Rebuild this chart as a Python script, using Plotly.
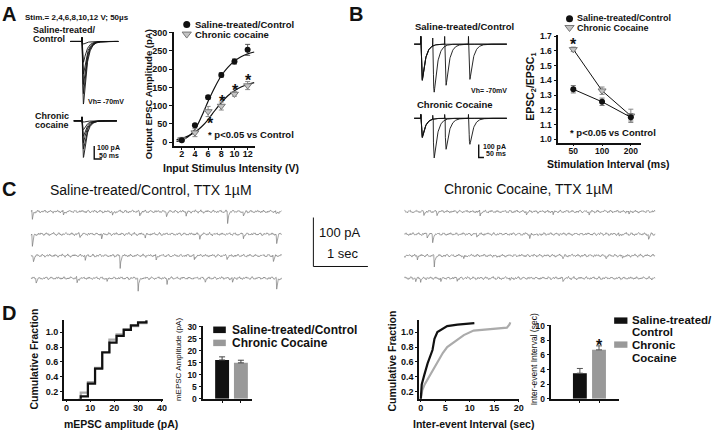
import numpy as np
import plotly.graph_objects as go

W, H = 720, 438
FONT = "Liberation Sans, Arial, sans-serif"
INK = "#111111"
LIGHT = "#ababab"

# ------------------------------------------------------------------ data
# Panel A : input-output curve
stim_v = [2, 4, 6, 8, 10, 12]
io_ctrl = [5, 46, 123, 184, 221, 253]
io_ctrl_err = [3, 4, 5, 6, 7, 15]
io_coc = [7, 26, 84, 99, 132, 155]
io_coc_err = [6, 11, 14, 11, 6, 11]
fit_v = [1.2, 2, 3, 4, 5, 6, 7, 8, 9, 10, 11, 12, 13]
fit_ctrl = [2, 5, 15, 35, 70, 112, 150, 182, 205, 222, 234, 242, 247]
fit_coc = [7, 10, 17, 27, 42, 62, 86, 108, 127, 141, 151, 158, 163]
io_sig_v = [6.3, 8.2, 10.1, 12.1]
io_sig_y = [62, 123, 153, 179]

# Panel A : example EPSC sweeps (pA peaks)
a_stim_ms = 102
a_ctrl_peaks = [20, 160, 250, 330, 400, 480]
a_coc_peaks = [10, 68, 118, 168, 216, 281]
a_ctrl_span = [26, 340]
a_coc_span = [48, 330]

# Panel B : paired-pulse ratio
ppr_labels = ["50", "100", "200"]
ppr_ctrl = [1.34, 1.255, 1.15]
ppr_ctrl_err = [0.025, 0.025, 0.025]
ppr_coc = [1.61, 1.33, 1.16]
ppr_coc_err = [0.015, 0.025, 0.045]
ppr_sig_y = [1.67]

# Panel B : example paired-pulse sweeps
b_stim1_ms = 39
b_isi_ms = [50, 100, 200]
b_ctrl_eps1 = [270, 275, 280]
b_ctrl_eps2 = [361, 316, 271]
b_coc_eps1 = [140, 145, 150]
b_coc_eps2 = [300, 238, 200]
b_span = [11, 400]

# Panel C : mEPSC events (time s, amplitude pA) per sweep
c_ctrl_event_s = [
    [0.03, 0.6, 1.5, 2.0, 2.49, 2.85, 3.61, 3.9, 4.5],
    [0.03, 0.9, 1.3, 2.1, 3.1, 3.9, 4.51],
    [0.05, 1.0, 1.64, 2.3, 3.0, 3.6, 4.45],
    [0.1, 0.85, 1.4, 1.97, 2.5, 3.2, 3.7, 4.51],
]
c_ctrl_event_pA = [
    [18, 8, 10, 8, 10, 8, 22, 10, 8],
    [24, 8, 10, 8, 10, 8, 20],
    [12, 8, 24, 10, 8, 8, 12],
    [10, 10, 8, 26, 10, 8, 8, 24],
]
c_coc_event_s = [
    [0.36, 0.6, 1.39, 2.24, 2.73, 3.39, 4.12],
    [0.42, 0.52, 1.33, 2.3, 2.45, 3.94, 4.48],
    [0.24, 0.55, 1.09, 1.7, 2.91, 3.7, 4.0],
    [0.21, 0.3, 0.67, 0.97, 1.94, 2.91],
]
c_coc_event_pA = [
    [6, 5, 10, 6, 6, 5, 6],
    [6, 16, 6, 8, 6, 6, 12],
    [6, 24, 8, 6, 6, 6, 8],
    [8, 6, 6, 5, 5, 6],
]
c_noise_fast_pA = [1.6, -0.8, 2.4, 0.6, -2.0, 1.0, 3.0, -0.4, -1.6, 1.8, 0.4, -2.6,
                   1.2, 2.2, -1.0, 0.0, 2.8, -1.8, 0.8, -0.6, 2.0, -2.2, 1.4, 0.2,
                   -1.2, 2.6, -0.4, 1.8, -2.8, 1.0, 0.4, -1.4, 2.4, -0.2, 1.2, -2.0, 0.6]
c_noise_slow_pA = [0.0, 0.8, 1.5, 1.9, 1.2, 0.4, -0.5, -1.2, -1.6, -1.0, -0.3, 0.5,
                   1.4, 2.0, 1.1, 0.2, -0.6, -1.5, -2.0, -1.3, -0.4, 0.3, 0.1]
c_sweep_s = 4.6

# Panel D : cumulative distributions and bars
amp_ctrl_x = [6, 6, 9, 12, 15, 18, 21, 24, 27, 30, 33.5]
amp_ctrl_y = [0.10, 0.14, 0.31, 0.51, 0.73, 0.86, 0.95, 1.03, 1.09, 1.13, 1.16]
amp_coc_x = [5, 6, 9, 12, 15, 18, 21, 24, 27, 30, 33.5]
amp_coc_y = [0.10, 0.19, 0.33, 0.52, 0.72, 0.90, 0.97, 1.04, 1.08, 1.12, 1.16]
iei_ctrl_x = [0, 0.2, 0.7, 1.4, 2.4, 2.8, 3.4, 4.5, 5.4, 7.5, 10.95]
iei_ctrl_y = [0.10, 0.30, 0.42, 0.58, 0.76, 0.91, 1.00, 1.05, 1.08, 1.10, 1.12]
iei_coc_x = [0, 0.3, 0.8, 1.5, 2.5, 3.4, 4.5, 5.4, 7, 8.8, 10.8, 14, 17.6, 18.1, 18.3]
iei_coc_y = [0.10, 0.22, 0.30, 0.38, 0.48, 0.58, 0.72, 0.80, 0.88, 0.96, 1.02, 1.04, 1.06, 1.10, 1.13]
bar_groups = ["Saline-treated/Control", "Chronic Cocaine"]
bar_amp = [16.2, 15.0]
bar_amp_err = [1.3, 1.1]
bar_iei = [3.5, 6.7]
bar_iei_err = [0.65, 0.55]
bar_iei_sig = [None, 7.9]

# ------------------------------------------------------------------ helpers
fig = go.Figure()
axes = {}


def xn(n):
    return "x" if n == 1 else f"x{n}"


def yn(n):
    return "y" if n == 1 else f"y{n}"


def make_axes(n, xpx, ypx, xr, yr, xkw=None, ykw=None):
    base = dict(showgrid=False, zeroline=False, fixedrange=True, visible=False)
    xa = dict(base, domain=[xpx[0] / W, xpx[1] / W], range=xr, anchor=yn(n))
    ya = dict(base, domain=[1 - ypx[1] / H, 1 - ypx[0] / H], range=yr, anchor=xn(n))
    if xkw:
        xa.update(xkw)
    if ykw:
        ya.update(ykw)
    axes["xaxis" if n == 1 else f"xaxis{n}"] = xa
    axes["yaxis" if n == 1 else f"yaxis{n}"] = ya


def vis(size=9, **kw):
    d = dict(visible=True, showline=True, linecolor=INK, linewidth=1.5,
             ticks="outside", ticklen=3, tickwidth=1.2, tickcolor=INK,
             tickfont=dict(family=FONT, size=size, color=INK, weight="bold"))
    d.update(kw)
    return d


def ann(text, x, y, size, bold=True, xanchor="left", angle=0, color=INK):
    fig.add_annotation(text=f"<b>{text}</b>" if bold else text,
                       x=x / W, y=1 - y / H, xref="paper", yref="paper",
                       showarrow=False, xanchor=xanchor, yanchor="middle",
                       textangle=angle, borderpad=0,
                       font=dict(family=FONT, size=size, color=color))


def line(n, x, y, color=INK, width=1.0, shape="linear"):
    fig.add_trace(go.Scatter(x=x, y=y, mode="lines", xaxis=xn(n), yaxis=yn(n),
                             line=dict(color=color, width=width, shape=shape),
                             hoverinfo="skip", showlegend=False))


def epsc(t, t0, amp, tau_r, tau_d):
    s = np.clip(t - t0, 0, None)
    tp = tau_r * tau_d / (tau_d - tau_r) * np.log(tau_d / tau_r)
    norm = np.exp(-tp / tau_d) - np.exp(-tp / tau_r)
    return -amp * (np.exp(-s / tau_d) - np.exp(-s / tau_r)) / norm * (t >= t0)


# ------------------------------------------------------------------ Panel A sweeps
make_axes(1, (66, 124), (28, 108), [0, 377], [-524, 77])
make_axes(2, (66, 124), (110, 166), [0, 377], [-351, 70])
for n, peaks, span in ((1, a_ctrl_peaks, a_ctrl_span), (2, a_coc_peaks, a_coc_span)):
    t = np.arange(span[0], span[1] + 1, 1.0)
    for p in peaks:
        y = epsc(t, a_stim_ms + 3, p, 2.5, 22)
        y[t == a_stim_ms] += 30
        y[t == a_stim_ms + 1] -= 15
        line(n, t, y, INK, 0.9)
line(2, [182, 182, 232], [-193, -293, -293], INK, 1.4)

# ------------------------------------------------------------------ Panel A chart
make_axes(3, (174.3, 256), (28.3, 145), [0.795, 13.1], [-10.7, 302.7],
          vis(9, tickvals=stim_v, ticklen=2, ticklabelstandoff=-4),
          vis(9, tickvals=[0, 50, 100, 150, 200, 250, 300]))
line(3, fit_v, fit_ctrl, INK, 1.2, "spline")
line(3, fit_v, fit_coc, INK, 1.2, "spline")
fig.add_trace(go.Scatter(x=stim_v, y=io_coc, mode="markers", xaxis="x3", yaxis="y3",
                         marker=dict(symbol="triangle-down", size=7, color="#c4c4c4",
                                     line=dict(color="#777", width=1)),
                         error_y=dict(type="data", array=io_coc_err, color="#888",
                                      thickness=1, width=2.5),
                         hoverinfo="skip", showlegend=False))
fig.add_trace(go.Scatter(x=stim_v, y=io_ctrl, mode="markers", xaxis="x3", yaxis="y3",
                         marker=dict(symbol="circle", size=6, color=INK),
                         error_y=dict(type="data", array=io_ctrl_err, color="#555",
                                      thickness=1, width=2.5),
                         hoverinfo="skip", showlegend=False))
for sx, sy in zip(io_sig_v, io_sig_y):
    fig.add_annotation(text="<b>*</b>", x=sx, y=sy, xref="x3", yref="y3", showarrow=False,
                       yshift=-4, font=dict(family=FONT, size=16, color=INK))

# ------------------------------------------------------------------ Panel B sweeps
make_axes(4, (414, 512), (20, 100), [0, 408], [-444, 158])
make_axes(5, (414, 512), (104, 162), [0, 408], [-340.6, 95.5])
for n, e1, e2, art in ((4, b_ctrl_eps1, b_ctrl_eps2, 60), (5, b_coc_eps1, b_coc_eps2, 30)):
    t = np.arange(b_span[0], b_span[1] + 1, 1.0)
    for a1, a2, isi in zip(e1, e2, b_isi_ms):
        s2 = b_stim1_ms + isi
        y = epsc(t, b_stim1_ms + 2, a1, 1.5, 14) + epsc(t, s2 + 2, a2, 1.5, 14)
        for s in (b_stim1_ms, s2):
            y[t == s] += art
        line(n, t, y, INK, 0.9)
line(5, [282, 282, 304], [-200.8, -300.8, -300.8], INK, 1.4)

# ------------------------------------------------------------------ Panel B chart
xi = list(range(len(ppr_labels)))
make_axes(6, (562, 645), (31.7, 141.5), [-0.52, 2.34], [0.979, 1.7066],
          vis(8.5, tickvals=xi, ticktext=ppr_labels, ticklen=2, ticklabelstandoff=-3),
          vis(8.5, tickvals=[1.0, 1.1, 1.2, 1.3, 1.4, 1.5, 1.6, 1.7], tickformat=".1f"))
fig.add_trace(go.Scatter(x=xi, y=ppr_coc, mode="lines+markers", xaxis="x6", yaxis="y6",
                         line=dict(color=INK, width=1),
                         marker=dict(symbol="triangle-down", size=7, color="#c4c4c4",
                                     line=dict(color="#777", width=1)),
                         error_y=dict(type="data", array=ppr_coc_err, color="#888",
                                      thickness=1, width=2.5),
                         hoverinfo="skip", showlegend=False))
fig.add_trace(go.Scatter(x=xi, y=ppr_ctrl, mode="lines+markers", xaxis="x6", yaxis="y6",
                         line=dict(color=INK, width=1),
                         marker=dict(symbol="circle", size=6, color=INK),
                         error_y=dict(type="data", array=ppr_ctrl_err, color="#777",
                                      thickness=1, width=2.5),
                         hoverinfo="skip", showlegend=False))
fig.add_annotation(text="<b>*</b>", x=0, y=ppr_sig_y[0], xref="x6", yref="y6", showarrow=False,
                   yshift=-4, font=dict(family=FONT, size=16, color=INK))

# ------------------------------------------------------------------ Panel C sweeps
row_py = [212, 235, 257, 280]
dt = 0.01
tc = np.arange(0, c_sweep_s + 1e-9, dt)
kf, ks = len(c_noise_fast_pA), len(c_noise_slow_pA)
for side, (x0, ev_s, ev_a) in enumerate(((30, c_ctrl_event_s, c_ctrl_event_pA),
                                         (406.7, c_coc_event_s, c_coc_event_pA))):
    for r in range(4):
        n = 7 + side * 4 + r
        make_axes(n, (x0, x0 + 253.3), (row_py[r] - 7, row_py[r] + 20), [0, 4.606], [-40, 14])
        y = np.array([0.6 * c_noise_fast_pA[(i + 11 * r + 5 * side) % kf]
                      + c_noise_slow_pA[(i + 7 * r + 3 * side) % ks] for i in range(len(tc))])
        for ts, amp in zip(ev_s[r], ev_a[r]):
            s = tc - ts
            y = y - amp * np.exp(-np.clip(s, 0, None) / 0.015) * (s >= -1e-9)
        line(n, tc, y, "#7a7a7a", 0.7)
make_axes(15, (310, 375), (215, 272), [0, 65 / 55], [-8, 106])
line(15, [0.091, 0.091, 1.091], [100, 0, 0], INK, 1.0)

# ------------------------------------------------------------------ Panel D
make_axes(16, (63.3, 163), (323, 403), [-1.1, 40.3], [0.108, 1.157],
          vis(9, tickvals=[0, 10, 20, 30, 40], ticklen=2, ticklabelstandoff=-2),
          vis(9, tickvals=[0.2, 0.4, 0.6, 0.8, 1.0], tickformat=".1f", ticklen=2))
line(16, amp_coc_x, amp_coc_y, LIGHT, 2.2, "hv")
line(16, amp_ctrl_x, amp_ctrl_y, INK, 2.2, "hv")

make_axes(18, (421.7, 522.5), (323, 403), [-0.32, 20.1], [0.108, 1.157],
          vis(9, tickvals=[0, 5, 10, 15, 20], ticklen=2, ticklabelstandoff=-2),
          vis(9, tickvals=[0.2, 0.4, 0.6, 0.8, 1.0], tickformat=".1f", ticklen=2))
line(18, iei_coc_x, iei_coc_y, LIGHT, 2.2)
line(18, iei_ctrl_x, iei_ctrl_y, INK, 2.2)

bx = [0, 1]
make_axes(17, (204, 253.3), (328.3, 403), [-1.0, 1.6], [0, 30.6],
          vis(9, tickvals=bx, showticklabels=False),
          vis(8.5, tickvals=[0, 5, 10, 15, 20, 25, 30]))
fig.add_trace(go.Bar(x=bx, y=bar_amp, width=0.74, xaxis="x17", yaxis="y17",
                     marker=dict(color=[INK, "#999999"], line=dict(width=0)),
                     error_y=dict(type="data", array=bar_amp_err, arrayminus=[0, 0],
                                  symmetric=False, color="#444", thickness=1, width=3),
                     hoverinfo="skip", showlegend=False))

make_axes(19, (555, 622.7), (327.8, 403), [-1.49, 2.02], [0, 10.1],
          vis(9, tickvals=bx, showticklabels=False),
          vis(8.5, tickvals=[0, 2, 4, 6, 8, 10]))
fig.add_trace(go.Bar(x=bx, y=bar_iei, width=0.725, xaxis="x19", yaxis="y19",
                     marker=dict(color=[INK, "#999999"], line=dict(width=0)),
                     error_y=dict(type="data", array=bar_iei_err, arrayminus=[0, 0],
                                  symmetric=False, color="#555", thickness=1, width=3),
                     hoverinfo="skip", showlegend=False))
for bxi, sy in zip(bx, bar_iei_sig):
    if sy is not None:
        fig.add_annotation(text="<b>*</b>", x=bxi, y=sy, xref="x19", yref="y19",
                           showarrow=False, yshift=-4,
                           font=dict(family=FONT, size=16, color=INK))

# ------------------------------------------------------------------ overlay (legend keys)
make_axes(20, (0, W), (0, H), [0, W], [H, 0])
fig.add_trace(go.Scatter(x=[187.3, 573.3], y=[21, 15], mode="markers", xaxis="x20", yaxis="y20",
                         marker=dict(symbol="circle", size=7, color=INK),
                         hoverinfo="skip", showlegend=False))
fig.add_trace(go.Scatter(x=[187.3, 573.3], y=[30.7, 24], mode="markers", xaxis="x20", yaxis="y20",
                         marker=dict(symbol="triangle-down", size=8, color="#c4c4c4",
                                     line=dict(color="#777", width=1)),
                         hoverinfo="skip", showlegend=False))
for (x0, y0, x1, y1, c) in ((214, 329.3, 226.7, 336, INK), (214, 342.7, 226.7, 349.3, "#999999"),
                            (618.3, 320, 631.7, 326.5, INK), (618.3, 344.5, 631.7, 351, "#999999")):
    fig.add_shape(type="rect", x0=x0 / W, x1=x1 / W, y0=1 - y1 / H, y1=1 - y0 / H,
                  xref="paper", yref="paper", fillcolor=c, line=dict(width=0))

# ------------------------------------------------------------------ texts
for lab, x, y in (("A", 8, 10), ("B", 358, 10), ("C", 8, 189), ("D", 8, 315)):
    ann(lab, x, y, 20, xanchor="center")
ann("Stim.= 2,4,6,8,10,12 V; 50µs", 22.7, 14, 8)
ann("Saline-treated/", 31.7, 27, 9)
ann("Control", 31.7, 35.5, 9)
ann("Vh= -70mV", 86.7, 99.3, 7)
ann("Chronic", 33, 114.8, 9)
ann("cocaine", 33, 123.5, 9)
ann("100 pA", 96, 147.3, 7)
ann("50 ms", 98, 154.5, 7)
ann("Output EPSC Amplitude (pA)", 148.3, 92, 9.5, xanchor="center", angle=-90)
ann("Input Stimulus Intensity (V)", 231.7, 167, 10.5, xanchor="center")
ann("Saline-treated/Control", 195, 21, 9.5)
ann("Chronic cocaine", 195, 30.7, 9.5)
ann("* p<0.05 vs Control", 208, 133.3, 9.5)

ann("Saline-treated/Control", 416.7, 22.7, 9.5)
ann("Vh= -70mV", 473, 88, 7)
ann("Chronic Cocaine", 418, 102.7, 9.5)
ann("100 pA", 485, 146, 7)
ann("50 ms", 488, 153, 7)
ann("EPSC<sub>2</sub>/EPSC<sub>1</sub>", 535, 85, 10.5, xanchor="center", angle=-90)
ann("Stimulation Interval (ms)", 613, 163, 10.5, xanchor="center")
ann("Saline-treated/Control", 580, 14.7, 9)
ann("Chronic Cocaine", 580, 24.3, 9)
ann("* p<0.05 vs Control", 573, 131, 9.5)

ann("Saline-treated/Control, TTX 1µM", 48.3, 190, 14, bold=False)
ann("Chronic Cocaine, TTX 1µM", 446, 189.3, 14, bold=False)
ann("100 pA", 320, 233, 13, bold=False)
ann("1 sec", 328, 255, 13, bold=False)

ann("Cumulative Fraction", 33.3, 363, 10.5, xanchor="center", angle=-90)
ann("mEPSC amplitude (pA)", 121, 429, 10.5, xanchor="center")
ann("mEPSC Amplitude (pA)", 179, 363, 8, bold=False, xanchor="center", angle=-90)
ann(bar_groups[0], 231.7, 332.7, 12)
ann(bar_groups[1], 231.7, 346, 12)
ann("Cumulative Fraction", 393.3, 365, 10.5, xanchor="center", angle=-90)
ann("Inter-event Interval (sec)", 476, 429, 10.5, xanchor="center")
ann("Inter-event Interval (sec)", 537, 363.3, 8.5, bold=False, xanchor="center", angle=-90)
ann("Saline-treated/", 635, 323, 11.5)
ann("Control", 635, 334.5, 11.5)
ann("Chronic", 635, 347.7, 11.5)
ann("Cocaine", 635, 361, 11.5)

fig.update_layout(width=W, height=H, margin=dict(l=0, r=0, t=0, b=0),
                  paper_bgcolor="white", plot_bgcolor="rgba(0,0,0,0)",
                  showlegend=False, font=dict(family=FONT, color=INK), **axes)
fig.write_html("out.html", config={"displayModeBar": False},
               post_script="document.body.style.margin='0px';document.body.style.overflow='hidden';")
